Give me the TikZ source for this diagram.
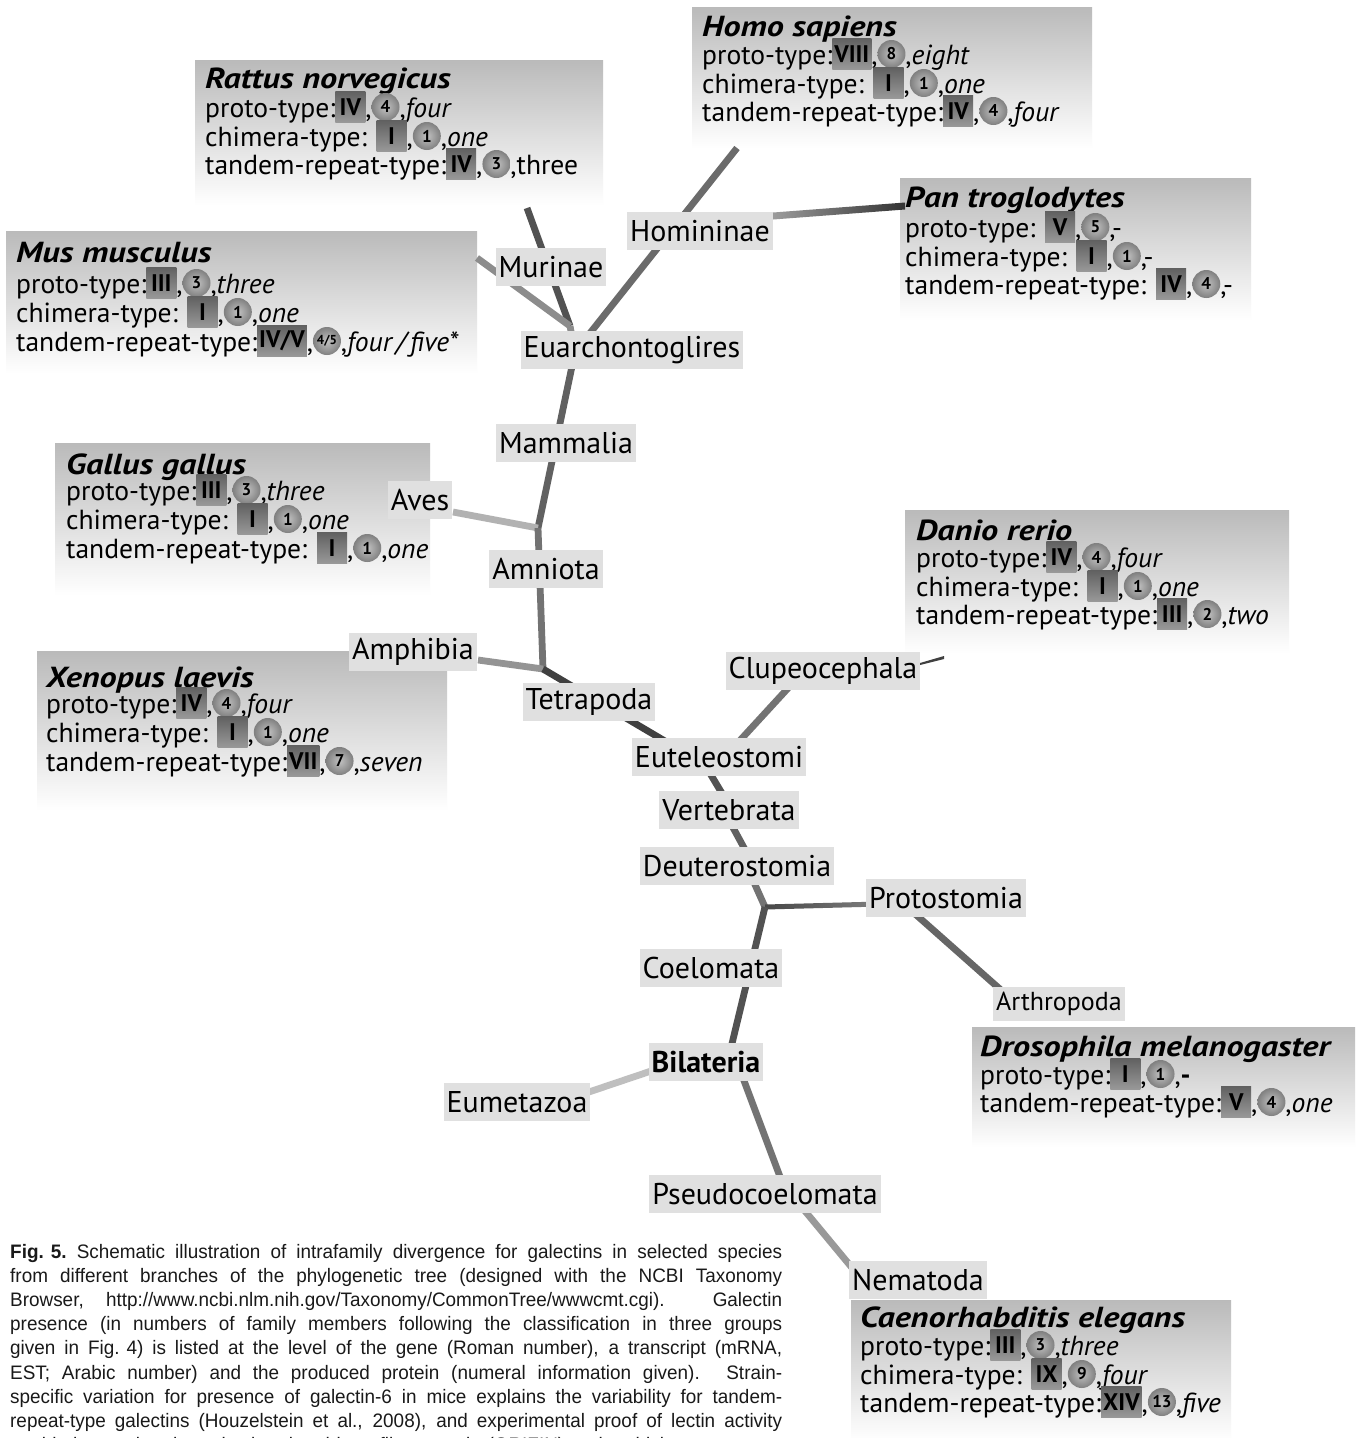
\documentclass[tikz,border=0pt]{standalone}
\usepackage{fontspec}
\setmainfont{PT Sans}
\newfontfamily\titlefont[FakeStretch=1.18]{PT Sans}
\newfontfamily\capfont[FakeStretch=0.97]{Liberation Sans}
\usetikzlibrary{calc}
\pgfdeclarelayer{boxlayer}
\pgfdeclarelayer{branchlayer}
\pgfsetlayers{boxlayer,branchlayer,main}
\definecolor{taxongray}{RGB}{224,224,224}
\definecolor{captext}{RGB}{25,25,25}

\tikzset{
  specbox/.style={anchor=north west, inner sep=0pt, top color=black!27, bottom color=white},
  specrow/.style={anchor=base west, inner sep=0pt, font=\fontsize{27.6}{29}\selectfont},
  spectitle/.style={anchor=base west, inner sep=0pt, font=\titlefont\fontsize{29}{29}\selectfont\bfseries\itshape},
  taxon/.style={fill=taxongray, inner xsep=3pt, inner ysep=0pt, minimum height=38pt, font=\fontsize{30}{30}\selectfont},
  branch/.style={line width=6.8pt},
  romanbadge/.style={top color=black!62, bottom color=black!40, inner xsep=2pt, inner ysep=0pt,
    minimum width=30pt, minimum height=31pt, font=\fontsize{24}{24}\selectfont\bfseries},
  numball/.style={circle, inner color=black!24, outer color=black!50, inner sep=0pt,
    minimum size=28pt, font=\fontsize{17}{17}\selectfont\bfseries},
  capline/.style={anchor=base west, inner sep=0pt, text=captext, font=\capfont\fontsize{19.5}{24}\selectfont},
}

% gene count (Roman) and transcript count (Arabic) badges, centred 10pt above the baseline
\newcommand\gene[1]{\smash{\raisebox{10pt}{\tikz[baseline=(gb.center)]\node[romanbadge](gb){#1};}}}
\newcommand\trn[1]{\smash{\raisebox{10pt}{\tikz[baseline=(tb.center)]\node[numball](tb){#1};}}}
\newcommand\trnsmall[1]{\smash{\raisebox{10pt}{\tikz[baseline=(ts.center)]\node[numball, font=\fontsize{13}{13}\selectfont\bfseries](ts){#1};}}}

\begin{document}
\begin{tikzpicture}[x=1pt,y=-1pt]
\useasboundingbox (0,0) rectangle (1362,1438);

% ---------- species panels ----------
\begin{pgfonlayer}{boxlayer}
\fill[white] (0,0) rectangle (1362,1438);
\node[specbox, minimum width=408pt, minimum height=145pt] (ratbox)  at (195,60)  {};
\node[specbox, minimum width=400pt, minimum height=141pt] (homobox) at (692,7)   {};
\node[specbox, minimum width=471pt, minimum height=142pt] (musbox)  at (6,231)   {};
\node[specbox, minimum width=351pt, minimum height=142pt] (panbox)  at (900,178) {};
\node[specbox, minimum width=375pt, minimum height=152pt] (galbox)  at (55,443)  {};
\node[specbox, minimum width=410pt, minimum height=159pt] (xenbox)  at (37,651)  {};
\node[specbox, minimum width=384pt, minimum height=143pt] (danbox)  at (905,510) {};
\node[specbox, minimum width=383pt, minimum height=120pt] (drobox)  at (972,1027) {};
\node[specbox, minimum width=380pt, minimum height=140pt] (caebox)  at (851,1300) {};
\end{pgfonlayer}

% ---------- taxon labels ----------
\node[taxon] (homininae)  at (700,231)  {Homininae};
\node[taxon] (murinae)    at (551,267)  {Murinae};
\node[taxon] (euarch)     at (632,350)  {Euarchontoglires};
\node[taxon] (mammalia)   at (566,443)  {Mammalia};
\node[taxon] (aves)       at (420,500)  {Aves};
\node[taxon] (amniota)    at (546,569)  {Amniota};
\node[taxon] (amphibia)   at (413,652)  {Amphibia};
\node[taxon] (tetrapoda)  at (589,702)  {Tetrapoda};
\node[taxon] (clupeo)     at (823,671)  {Clupeocephala};
\node[taxon] (eutel)      at (719,757)  {Euteleostomi};
\node[taxon] (vertebrata) at (729,810)  {Vertebrata};
\node[taxon] (deutero)    at (737,866)  {Deuterostomia};
\node[taxon] (protost)    at (946,898)  {Protostomia};
\node[taxon] (coelomata)  at (711,968)  {Coelomata};
\node[taxon, minimum height=34pt, font=\fontsize{26}{26}\selectfont] (arthro) at (1059,1004) {Arthropoda};
\node[taxon, font=\fontsize{30}{30}\selectfont\bfseries] (bilat) at (706,1062) {Bilateria};
\node[taxon] (eumeta)     at (517,1102) {Eumetazoa};
\node[taxon] (pseudo)     at (765,1194) {Pseudocoelomata};
\node[taxon] (nemat)      at (918,1280) {Nematoda};

% ---------- branch points ----------
\coordinate (homofoot) at (737,148);
\coordinate (ratfoot)  at (527,208);
\coordinate (musfoot)  at (477,258);
\coordinate (jmur)     at (570,326);
\coordinate (jeua)     at (575,352);
\coordinate (jamn)     at (538,528);
\coordinate (avesfoot) at (453,512);
\coordinate (amphfoot) at (478,660);
\coordinate (jtet)     at (543,669);
\coordinate (jeut)     at (675,747);
\coordinate (clupfoot) at (790,686);
\coordinate (clupend)  at (733,748);
\coordinate (homjoin)  at (760,217);
\coordinate (panjoin)  at (905,206);
\coordinate (eutfoot)  at (708,770);
\coordinate (vertop)   at (726,800);
\coordinate (verfoot)  at (730,822);
\coordinate (deutop)   at (749,857);
\coordinate (deufoot)  at (752,878);
\coordinate (jpro)     at (765,907);
\coordinate (protin)   at (880,904);
\coordinate (protfoot) at (905,905);
\coordinate (arthtop)  at (1010,998);
\coordinate (bilatop)  at (729,1056);
\coordinate (bilaleft) at (660,1068);
\coordinate (eumend)   at (580,1095);
\coordinate (bilafoot) at (740,1070);
\coordinate (psetop)   at (785,1190);
\coordinate (psefoot)  at (800,1205);
\coordinate (nemtop)   at (858,1275);

% ---------- branches ----------
\begin{pgfonlayer}{branchlayer}
\draw[branch, black!58] (homofoot) -- (jeua);
\draw[branch, black!68] (ratfoot) -- (jmur);
\draw[branch, black!45] (musfoot) -- (jmur);
\draw[branch, black!45] (jmur) -- (jeua);
\draw[branch, black!62] (jeua) -- (jamn);
\draw[branch, black!30] (avesfoot) -- (jamn);
\draw[branch, black!55] (jamn) -- (jtet);
\draw[branch, black!42] (amphfoot) -- (jtet);
\draw[branch, black!75] (jtet) -- (jeut);
\draw[branch, black!55] (clupfoot) -- (clupend);
\fill[black!75] (920,663) -- (944,656) -- (944,659) -- (920,665) -- cycle;
\shade[left color=black!35, right color=black!80]
  ($(homjoin)+(0,-3.5)$) -- ($(panjoin)+(0,-3.5)$) -- ($(panjoin)+(0,3.5)$) -- ($(homjoin)+(0,3.5)$) -- cycle;
\draw[branch, black!68] (eutfoot) -- (vertop);
\draw[branch, black!62] (verfoot) -- (deutop);
\draw[branch, black!55] (deufoot) -- (jpro);
\shade[left color=black!72, right color=black!50]
  ($(jpro)+(0,-2.5)$) -- ($(protin)+(0,-2.5)$) -- ($(protin)+(0,2.5)$) -- ($(jpro)+(0,2.5)$) -- cycle;
\draw[branch, black!60] (protfoot) -- (arthtop);
\draw[branch, black!68] (jpro) -- (bilatop);
\draw[branch, black!25] (bilaleft) -- (eumend);
\draw[branch, black!55] (bilafoot) -- (psetop);
\draw[branch, black!40] (psefoot) -- (nemtop);
\end{pgfonlayer}

% ---------- species entries ----------
\node[spectitle] (rat0) at (205,88)  {Rattus norvegicus};
\node[specrow]   (rat1) at (205,117) {proto-type:\gene{IV},\trn{4},\textit{four}};
\node[specrow]   (rat2) at (205,146) {chimera-type: \gene{I},\trn{1},\textit{one}};
\node[specrow]   (rat3) at (205,174) {tandem-repeat-type:\gene{IV},\trn{3},three};

\node[spectitle] (hom0) at (702,36)  {Homo sapiens};
\node[specrow]   (hom1) at (702,64)  {proto-type:\gene{VIII},\trn{8},\textit{eight}};
\node[specrow]   (hom2) at (702,93)  {chimera-type: \gene{I},\trn{1},\textit{one}};
\node[specrow]   (hom3) at (702,121) {tandem-repeat-type:\gene{IV},\trn{4},\textit{four}};

\node[spectitle] (mus0) at (16,262)  {Mus musculus};
\node[specrow]   (mus1) at (16,293)  {proto-type:\gene{III},\trn{3},\textit{three}};
\node[specrow]   (mus2) at (16,322)  {chimera-type: \gene{I},\trn{1},\textit{one}};
\node[specrow]   (mus3) at (16,351)  {tandem-repeat-type:\gene{IV/V},\trnsmall{4/5},\textit{four\,/\,five*}};

\node[spectitle] (pan0) at (905,207) {Pan troglodytes};
\node[specrow]   (pan1) at (905,237) {proto-type: \gene{V},\trn{5},-};
\node[specrow]   (pan2) at (905,266) {chimera-type: \gene{I},\trn{1},-};
\node[specrow]   (pan3) at (905,294) {tandem-repeat-type: \gene{IV},\trn{4},-};

\node[spectitle] (gal0) at (66,474)  {Gallus gallus};
\node[specrow]   (gal1) at (66,500)  {proto-type:\gene{III},\trn{3},\textit{three}};
\node[specrow]   (gal2) at (66,529)  {chimera-type: \gene{I},\trn{1},\textit{one}};
\node[specrow]   (gal3) at (66,558)  {tandem-repeat-type: \gene{I},\trn{1},\textit{one}};

\node[spectitle] (xen0) at (46,687)  {Xenopus laevis};
\node[specrow]   (xen1) at (46,713)  {proto-type:\gene{IV},\trn{4},\textit{four}};
\node[specrow]   (xen2) at (46,742)  {chimera-type: \gene{I},\trn{1},\textit{one}};
\node[specrow]   (xen3) at (46,771)  {tandem-repeat-type:\gene{VII},\trn{7},\textit{seven}};

\node[spectitle] (dan0) at (916,540) {Danio rerio};
\node[specrow]   (dan1) at (916,567) {proto-type:\gene{IV},\trn{4},\textit{four}};
\node[specrow]   (dan2) at (916,596) {chimera-type: \gene{I},\trn{1},\textit{one}};
\node[specrow]   (dan3) at (916,624) {tandem-repeat-type:\gene{III},\trn{2},\textit{two}};

\node[spectitle] (dro0) at (980,1056) {Drosophila melanogaster};
\node[specrow]   (dro1) at (980,1084) {proto-type:\gene{I},\trn{1},\textbf{-}};
\node[specrow]   (dro2) at (980,1112) {tandem-repeat-type:\gene{V},\trn{4},\textit{one}};

\node[spectitle] (cae0) at (860,1327) {Caenorhabditis elegans};
\node[specrow]   (cae1) at (860,1355) {proto-type:\gene{III},\trn{3},\textit{three}};
\node[specrow]   (cae2) at (860,1384) {chimera-type: \gene{IX},\trn{9},\textit{four}};
\node[specrow]   (cae3) at (860,1412) {tandem-repeat-type:\gene{XIV},\trn{13},\textit{five}};

% ---------- caption ----------
\node[capline] (cap1) at (10,1258) {\makebox[772pt][s]{\mbox{\textbf{Fig. 5.}} Schematic illustration of intrafamily divergence for galectins in selected species}};
\node[capline] (cap2) at (10,1282) {\makebox[772pt][s]{from different branches of the phylogenetic tree (designed with the NCBI Taxonomy}};
\node[capline] (cap3) at (10,1306) {\makebox[772pt][s]{Browser, http://www.ncbi.nlm.nih.gov/Taxonomy/CommonTree/wwwcmt.cgi). Galectin}};
\node[capline] (cap4) at (10,1330) {\makebox[772pt][s]{presence (in numbers of family members following the classification in three groups}};
\node[capline] (cap5) at (10,1354) {\makebox[772pt][s]{given in \mbox{Fig. 4)} is listed at the level of the gene (Roman number), a transcript (mRNA,}};
\node[capline] (cap6) at (10,1379) {\makebox[772pt][s]{EST; Arabic number) and the produced protein (numeral information given). Strain-}};
\node[capline] (cap7) at (10,1403) {\makebox[772pt][s]{specific variation for presence of galectin-6 in mice explains the variability for tandem-}};
\node[capline] (cap8) at (10,1427) {\makebox[772pt][s]{repeat-type galectins (Houzelstein et al., 2008), and experimental proof of lectin activity}};
\node[capline] (cap9) at (10,1451) {\makebox[772pt][s]{enabled to assign the galectin-related inter-fiber protein (GRIFIN) to the chicken proto-type}};
\end{tikzpicture}
\end{document}
